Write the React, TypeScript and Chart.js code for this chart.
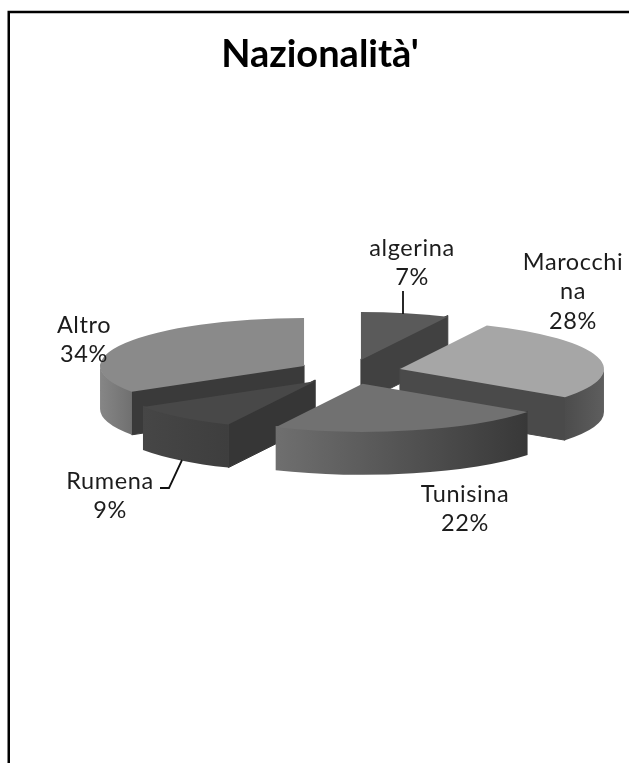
import React, { useEffect, useRef } from "react";
import { Chart, registerables } from "chart.js";

Chart.register(...registerables);

const categories = ["algerina", "Marocchina", "Tunisina", "Rumena", "Altro"];
const values = [7, 28, 22, 9, 34];
const wrappedNames = [["algerina"], ["Marocchi", "na"], ["Tunisina"], ["Rumena"], ["Altro"]];

const topColors = ["#5a5a5a", "#a6a6a6", "#717171", "#484848", "#8a8a8a"];
const radialColors = ["#414141", "#4a4a4a", "#383838", "#363636", "#3a3a3a"];
const wallLeft = ["#444444", "#4c4c4c", "#6f6f6f", "#464646", "#868686"];
const wallRight = ["#444444", "#5e5e5e", "#383838", "#3e3e3e", "#707070"];

const CENTER_X = 349.6;
const CENTER_Y = 372;
const TILT = 48 / 204;
const EXPLODE = 52;
const DEPTH = 43;
const SEAM = 1.2;

const labelAnchors = [
  { x: 412, y: 248 },
  { x: 573, y: 262 },
  { x: 465, y: 494 },
  { x: 110, y: 481 },
  { x: 84, y: 325 },
];
const leaders = [
  [[403, 291], [403, 314]],
  [[160, 488], [169, 488], [182, 460]],
];

const pie3dPlugin = {
  id: "pie3d",
  beforeDraw(chart: any) {
    const ctx = chart.ctx;
    ctx.save();
    ctx.strokeStyle = "#000";
    ctx.lineWidth = 2.5;
    ctx.beginPath();
    ctx.moveTo(8.75, 763);
    ctx.lineTo(8.75, 12);
    ctx.lineTo(629, 12);
    ctx.stroke();
    ctx.restore();
  },
  beforeDatasetsDraw(chart: any) {
    const ctx = chart.ctx;
    const arcs = chart.getDatasetMeta(0).data as any[];
    const order = arcs
      .map((arc, i) => {
        const mid = (arc.startAngle + arc.endAngle) / 2;
        return { arc, i, dx: Math.cos(mid) * EXPLODE, dy: Math.sin(mid) * EXPLODE * TILT };
      })
      .sort((a, b) => a.dy - b.dy);

    for (const { arc, i, dx, dy } of order) {
      const ax = CENTER_X + dx;
      const ay = CENTER_Y + dy;
      const r = arc.outerRadius;
      const ry = r * TILT;
      const a0 = arc.startAngle;
      const a1 = arc.endAngle;
      const pt = (a: number) => [ax + Math.cos(a) * r, ay + Math.sin(a) * ry];

      // cut faces seen from the front
      const radial = (a: number) => {
        const p = pt(a);
        ctx.beginPath();
        ctx.moveTo(ax, ay - SEAM);
        ctx.lineTo(p[0], p[1] - SEAM);
        ctx.lineTo(p[0], p[1] + DEPTH);
        ctx.lineTo(ax, ay + DEPTH);
        ctx.closePath();
        ctx.fillStyle = radialColors[i];
        ctx.strokeStyle = radialColors[i];
        ctx.lineWidth = 1;
        ctx.fill();
        ctx.stroke();
      };
      if (Math.cos(a0) < -1e-6) radial(a0);
      if (Math.cos(a1) > 1e-6) radial(a1);

      // curved outer wall seen from the front
      const from = Math.max(a0, 0);
      const to = Math.min(a1, Math.PI);
      if (to > from) {
        const pFrom = pt(from);
        const pTo = pt(to);
        const g = ctx.createLinearGradient(Math.min(pFrom[0], pTo[0]), 0, Math.max(pFrom[0], pTo[0]), 0);
        g.addColorStop(0, wallLeft[i]);
        g.addColorStop(1, wallRight[i]);
        ctx.beginPath();
        ctx.ellipse(ax, ay - SEAM, r, ry, 0, from, to, false);
        ctx.ellipse(ax, ay + DEPTH, r, ry, 0, to, from, true);
        ctx.closePath();
        ctx.fillStyle = g;
        ctx.fill();
      }

      // top face: the library's own arc, tilted and moved out
      ctx.save();
      ctx.translate(ax, ay);
      ctx.scale(1, TILT);
      ctx.translate(-arc.x, -arc.y);
      arc.draw(ctx);
      ctx.restore();
    }
    return false;
  },
  afterDraw(chart: any) {
    const ctx = chart.ctx;
    const total = values.reduce((s, v) => s + v, 0);
    ctx.save();
    ctx.strokeStyle = "#111";
    ctx.lineWidth = 1.8;
    for (const line of leaders) {
      ctx.beginPath();
      line.forEach((p, k) => (k ? ctx.lineTo(p[0], p[1]) : ctx.moveTo(p[0], p[1])));
      ctx.stroke();
    }
    ctx.fillStyle = "#1c1c1c";
    ctx.font = "23.5px Lato";
    ctx.textAlign = "center";
    ctx.textBaseline = "middle";
    (ctx as any).letterSpacing = "0.6px";
    categories.forEach((_, i) => {
      const lines = [...wrappedNames[i], `${Math.round((values[i] / total) * 100)}%`];
      lines.forEach((t, k) => ctx.fillText(t, labelAnchors[i].x, labelAnchors[i].y + k * 29.5));
    });
    ctx.restore();
  },
};

export default function App() {
  const ref = useRef<HTMLCanvasElement | null>(null);
  useEffect(() => {
    const chart = new Chart(ref.current as HTMLCanvasElement, {
      type: "pie",
      data: {
        labels: categories,
        datasets: [{ data: values, backgroundColor: topColors, borderWidth: 0 }],
      },
      options: {
        animation: false,
        responsive: false,
        devicePixelRatio: 1,
        events: [],
        layout: { padding: { left: 116, right: 105, top: 0, bottom: 20 } },
        plugins: {
          legend: { display: false },
          tooltip: { enabled: false },
          title: {
            display: true,
            text: "Nazionalità'",
            color: "#000",
            font: { family: "Lato", size: 38, weight: "bold" },
            padding: { top: 32, bottom: 10 },
          },
        },
      },
      plugins: [pie3dPlugin],
    } as any);
    return () => chart.destroy();
  }, []);
  return (
    <canvas
      ref={ref}
      width={629}
      height={763}
      style={{ position: "absolute", left: 0, top: 0, display: "block", background: "#fff" }}
    />
  );
}
